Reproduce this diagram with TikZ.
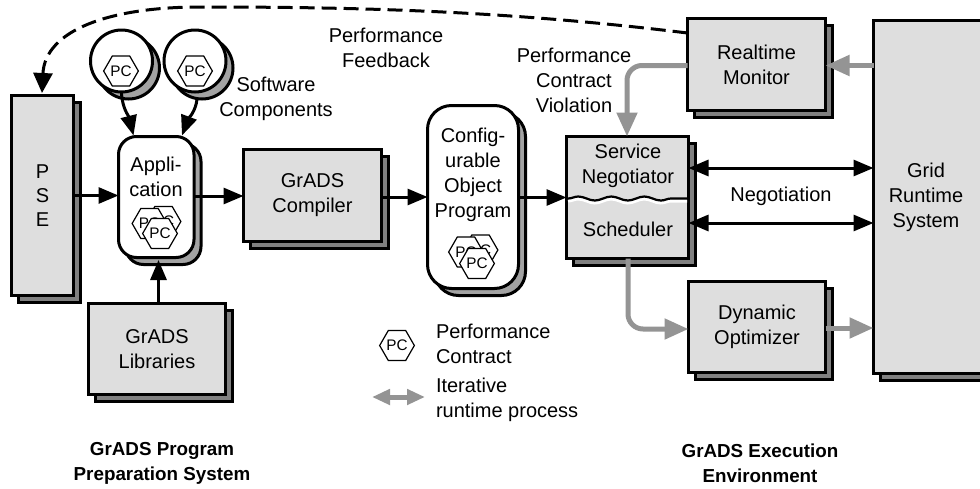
\documentclass[tikz,border=0pt]{standalone}
\usepackage{fontspec}
\setmainfont{Liberation Sans}
\usetikzlibrary{arrows.meta,shadows,decorations.pathmorphing,shapes.geometric,calc}
\definecolor{boxgray}{gray}{0.87}
\definecolor{shadegray}{gray}{0.5}
\definecolor{roundshade}{gray}{0.64}
\definecolor{flowgray}{gray}{0.58}
\tikzset{
 every node/.style={font=\fontsize{20pt}{25pt}\selectfont,align=center,inner sep=0pt,outer sep=0pt},
 boxnode/.style={draw=black,line width=3pt,fill=boxgray,text=black,
   copy shadow={shadow xshift=7pt,shadow yshift=-7pt,fill=shadegray,draw=black}},
 roundnode/.style={draw=black,line width=3pt,fill=white,rounded corners=18pt,
   copy shadow={shadow xshift=7pt,shadow yshift=-7pt,fill=roundshade,draw=black}},
 compnode/.style={circle,draw=black,line width=3pt,fill=white,minimum size=62pt,
   copy shadow={shadow xshift=7pt,shadow yshift=-7pt,fill=roundshade,draw=black}},
 hexnode/.style={regular polygon,regular polygon sides=6,shape border rotate=0,draw=black,line width=1.2pt,fill=white,
   minimum size=31pt,font=\fontsize{15.3pt}{16pt}\selectfont},
 flow/.style={line width=3pt,-{Triangle[length=20pt,width=16pt]}},
 flowboth/.style={line width=3pt,{Triangle[length=20pt,width=16pt]}-{Triangle[length=20pt,width=16pt]}},
 grayflow/.style={line width=5pt,flowgray,-{Triangle[length=24pt,width=20pt]}},
 title/.style={font=\fontsize{18.8pt}{25pt}\selectfont\bfseries},
}
\begin{document}
\begin{tikzpicture}[x=1pt,y=-1pt]
\useasboundingbox (0,0) rectangle (980,488);
% boxes
\node[boxnode,minimum width=62pt,minimum height=200pt] (pse) at (42.5,195.5) {P\\[-1pt]S\\[-1pt]E};
\node[roundnode,minimum width=75.5pt,minimum height=121pt] (app) at (156.25,197) {};
\node (apptxt) at (156,177) {Appli-\\cation};
\node[compnode] (c1) at (121.5,61) {};
\node[compnode] (c2) at (195,61) {};
\node[hexnode] (h1) at (121,71) {PC};
\node[hexnode] (h2) at (195,71) {PC};
\node[hexnode] (a2) at (163.5,221.5) {PC};
\node[hexnode] (a1) at (149.5,223.5) {PC};
\node[hexnode] (a3) at (160,233.5) {PC};
\node[boxnode,minimum width=137pt,minimum height=91pt] (lib) at (157,349) {GrADS\\Libraries};
\node[boxnode,minimum width=138pt,minimum height=92pt] (comp) at (312.5,195.5) {GrADS\\Compiler};
\node[roundnode,minimum width=91pt,minimum height=183pt,rounded corners=24pt] (obj) at (473,197) {};
\node (objtxt) at (473,175) {Config-\\urable\\Object\\Program};
\node[hexnode] (b2) at (480.5,250) {PC};
\node[hexnode] (b1) at (466,252) {PC};
\node[hexnode] (b3) at (477,263.5) {PC};
\node[boxnode,minimum width=122pt,minimum height=122pt] (serv) at (627.5,197.5) {};
\node (servtxt) at (628,166) {Service\\Negotiator};
\node (sched) at (628,229) {Scheduler};
\node[boxnode,minimum width=138pt,minimum height=92pt] (mon) at (756.5,64.5) {Realtime\\Monitor};
\node[boxnode,minimum width=137pt,minimum height=91pt] (opt) at (757,327) {Dynamic\\Optimizer};
\node[boxnode,minimum width=130pt,minimum height=353pt] (grid) at (938.5,197) {};
\node (gridtxt) at (926,197) {Grid\\Runtime\\System};
% legend
\node[hexnode] (lh) at (397,345.5) {PC};
\node[anchor=west,align=left] (lt) at (436,344) {Performance\\Contract};
\node[anchor=west,align=left] (lr) at (436,400) {Iterative\\runtime process};
\coordinate (la) at (372,397);
\coordinate (lb) at (425,397);
\draw[line width=5pt,flowgray,{Triangle[length=18pt,width=15pt]}-{Triangle[length=18pt,width=15pt]}] (la) -- (lb);
% labels
\node (sw) at (276,99) {Software\\Components};
\node (pf) at (386,48) {Performance\\Feedback};
\node (pv) at (574,80) {Performance\\Contract\\Violation};
\node (neg) at (781,196) {Negotiation};
\node[title] (t1) at (162,463) {GrADS Program\\Preparation System};
\node[title] (t2) at (760,463) {GrADS Execution\\Environment};
% black connectors
\coordinate (e1) at ($(app.north west)+(15,-1)$);
\coordinate (e2) at ($(app.north east)+(-12,-1)$);
\draw[flow] ($(c1.south)+(0,1)$) .. controls +(1,16) and +(-5,-20) .. (e1);
\draw[flow] ($(c2.south)+(2,7)$) .. controls +(-1,12) and +(6,-16) .. (e2);
\draw[flow] (pse.east |- 0,195.5) -- (app.west |- 0,195.5);
\draw[flow] (app.east |- 0,196) -- (comp.west |- 0,196);
\draw[flow] (comp.east |- 0,197) -- (obj.west |- 0,197);
\draw[flow] (obj.east |- 0,197.5) -- (serv.west |- 0,197.5);
\draw[flow] (lib.north -| 158.5,0) -- (158.5,260);
\draw[flowboth] (serv.east |- 0,168) -- (grid.west |- 0,168);
\draw[flowboth] (serv.east |- 0,223) -- (grid.west |- 0,223);
\draw[line width=3pt,dash pattern=on 15pt off 7pt,-{Triangle[length=20pt,width=19pt]}] (mon.west |- 0,33) .. controls (500,10) and (350,7) .. (200,7) .. controls (110,7) and (45,30) .. (42,93);
% gray connectors
\draw[grayflow] (grid.west |- 0,65.5) -- (mon.east |- 0,65.5);
\draw[grayflow,rounded corners=15pt] (mon.west |- 0,65.5) -- (627,65.5) -- (serv.north -| 627,0);
\draw[grayflow,rounded corners=15pt] (serv.south -| 628,0) -- (628,329) -- (opt.west |- 0,329);
\draw[grayflow] (opt.east |- 0,328) -- (grid.west |- 0,328);
% wave
\draw[white,line width=2.6pt,decorate,decoration={snake,segment length=33pt,amplitude=2pt}] (568,201.2) -- (687,201.2);
\draw[black,line width=2.2pt,decorate,decoration={snake,segment length=33pt,amplitude=2pt}] (568,198.5) -- (687,198.5);
\end{tikzpicture}
\end{document}
